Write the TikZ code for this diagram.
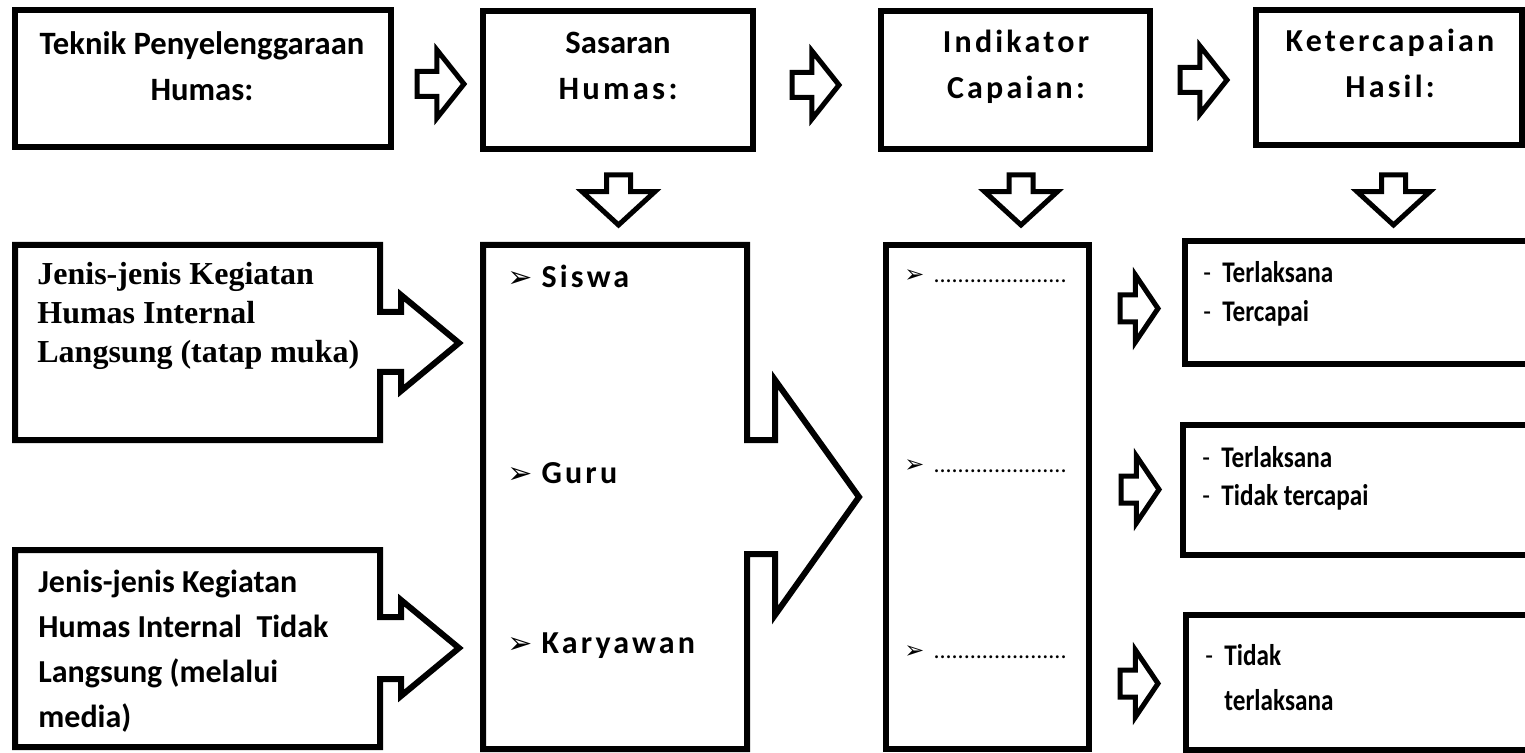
\documentclass[tikz,border=0pt]{standalone}
\usepackage{fontspec}
\setmainfont{Carlito}
\newfontfamily\serifbold{Liberation Serif}
\newfontfamily\spaced{Carlito}[LetterSpace=10]
\newfontfamily\narrow{Carlito}[FakeStretch=0.84]
\newfontfamily\bulletfont{DejaVu Sans}
\usetikzlibrary{shapes.arrows}
\newcommand{\bul}[1]{{\bulletfont\fontsize{#1}{#1}\selectfont ➢}}
\newcommand{\resdash}{\makebox[9.5pt][l]{\mdseries -}}
\tikzset{
  frame/.style={draw=black, line width=3pt, inner sep=0pt},
  rblock/.style={single arrow, draw=black, line width=2.5pt, inner xsep=0pt, inner ysep=5pt,
    single arrow head extend=10.75pt, single arrow tip angle=103, minimum height=23.5pt, anchor=tail},
  dblock/.style={single arrow, draw=black, line width=2.5pt, inner xsep=0pt, inner ysep=4.75pt,
    single arrow head extend=12.25pt, single arrow tip angle=95, minimum height=25pt, rotate=-90, anchor=tail},
  sblock/.style={single arrow, draw=black, line width=2.5pt, inner xsep=0pt, inner ysep=5.5pt,
    single arrow head extend=10pt, single arrow tip angle=112, minimum height=19pt, anchor=tail},
  head/.style={font=\fontsize{16.3}{23}\selectfont\bfseries, align=center, anchor=base},
  item/.style={anchor=base west, font=\spaced\fontsize{16}{16}\selectfont\bfseries},
  dotitem/.style={anchor=base west, font=\fontsize{12}{12}\selectfont},
  result/.style={anchor=base west, align=left, font=\narrow\fontsize{15}{19.5}\selectfont\bfseries},
}
\begin{document}
\begin{tikzpicture}[x=0.5pt, y=0.5pt]
\tikzstyle{every node}+=[inner sep=0pt]
\useasboundingbox (0,0) rectangle (1525,-753);
% top row
\node [frame, minimum width=188pt, minimum height=68.5pt] (teknik) at (203,-78.5) {};
\node [frame, minimum width=135pt, minimum height=69pt] (sasaran) at (618,-80) {};
\node [frame, minimum width=134.5pt, minimum height=69pt] (indikator) at (1015.5,-80) {};
\node [frame, minimum width=133pt, minimum height=67.5pt] (hasil) at (1389,-77.5) {};
\node [head] (teknik-t) at (202,-101) {Teknik Penyelenggaraan\\Humas:};
\node [head] (sasaran-t) at (618,-100) {Sasaran\\{\spaced Humas:}};
\node [head, font=\spaced\fontsize{16}{23}\selectfont\bfseries] (indikator-t) at (1016,-99) {Indikator\\Capaian:};
\node [head, font=\spaced\fontsize{16}{23}\selectfont\bfseries] (hasil-t) at (1390,-98) {Ketercapaian\\Hasil:};
\node [rblock] (a1) at (414.5,-84) {};
\node [rblock] (a2) at (789.5,-85) {};
\node [rblock] (a3) at (1177.5,-80) {};
\node [dblock] (d1) at (618.5,-172.5) {};
\node [dblock] (d2) at (1021,-172.5) {};
\node [dblock] (d3) at (1393.5,-172.5) {};
% left callouts
\draw [frame] (15,-245) -- (380,-245) -- (380,-312) -- (401,-312) -- (401,-295) -- (459,-343)
  -- (401,-391) -- (401,-372) -- (380,-372) -- (380,-440) -- (15,-440) -- cycle;
\node [anchor=base west, align=left, font=\serifbold\fontsize{16}{19.5}\selectfont\bfseries] (langsung) at (37,-363)
  {Jenis-jenis Kegiatan\\Humas Internal\\Langsung (tatap muka)};
\draw [frame] (15,-550) -- (380,-550) -- (380,-617) -- (401,-617) -- (401,-600) -- (459,-648)
  -- (401,-696) -- (401,-679) -- (380,-679) -- (380,-747) -- (15,-747) -- cycle;
\node [anchor=base west, align=left, font=\fontsize{16}{22.5}\selectfont\bfseries] (tidaklangsung) at (38,-727)
  {Jenis-jenis Kegiatan\\Humas Internal\ \ Tidak\\Langsung (melalui\\media)};
% sasaran list
\draw [frame] (483,-245) -- (747,-245) -- (747,-440) -- (775,-440) -- (775,-380) -- (859,-497)
  -- (775,-615) -- (775,-554) -- (747,-554) -- (747,-749) -- (483,-749) -- cycle;
\node [item] (siswa) at (507,-288) {\bul{15}\hspace{4.5pt}Siswa};
\node [item] (guru) at (507,-483) {\bul{15}\hspace{4.5pt}Guru};
\node [item] (karyawan) at (507,-653) {\bul{15}\hspace{4.5pt}Karyawan};
% indikator list
\node [frame, minimum width=101.5pt, minimum height=252pt] (capaian) at (987.5,-497) {};
\node [dotitem] (ind1) at (904,-283) {\bul{12}\hspace{4.5pt}......................};
\node [dotitem] (ind2) at (904,-472) {\bul{12}\hspace{4.5pt}......................};
\node [dotitem] (ind3) at (904,-658) {\bul{12}\hspace{4.5pt}......................};
\node [sblock] (s1) at (1117.5,-308.5) {};
\node [sblock] (s2) at (1118.5,-489.5) {};
\node [sblock] (s3) at (1117.5,-683.5) {};
% results
\node [frame, minimum width=180pt, minimum height=61.5pt] (res1) at (1365,-302.5) {};
\node [frame, minimum width=181pt, minimum height=65pt] (res2) at (1364,-490) {};
\node [frame, minimum width=179.5pt, minimum height=67.5pt] (res3) at (1365.5,-682.5) {};
\node [result] (res1-t) at (1203,-322) {\resdash Terlaksana\\\resdash Tercapai};
\node [result, font=\narrow\fontsize{15}{19}\selectfont\bfseries] (res2-t) at (1202,-505) {\resdash Terlaksana\\\resdash Tidak tercapai};
\node [result, font=\narrow\fontsize{15}{22.5}\selectfont\bfseries] (res3-t) at (1205,-710) {\resdash Tidak\\\hspace*{9.5pt}terlaksana};
\end{tikzpicture}
\end{document}
